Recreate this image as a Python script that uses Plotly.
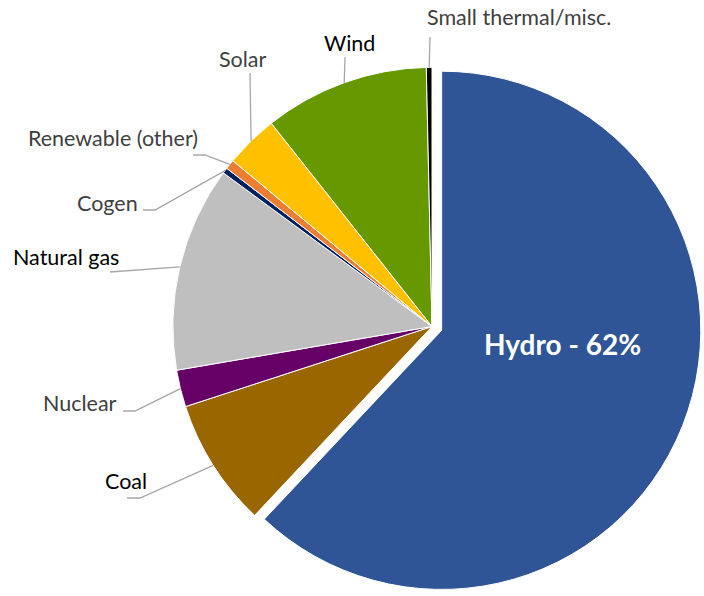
import plotly.graph_objects as go
import numpy as np

# electricity generation by source (share of total, %)
sources = ["Hydro", "Coal", "Nuclear", "Natural gas", "Cogen",
           "Renewable (other)", "Solar", "Wind", "Small thermal/misc."]
shares = [62.0, 8.0, 2.3, 12.8, 0.35, 0.6, 3.3, 10.3, 0.35]
colors = ["#2F5597", "#996600", "#660066", "#BFBFBF", "#002060",
          "#ED7D31", "#FFC000", "#669900", "#000000"]

W, H = 704, 596
FONT = "Lato, Calibri, sans-serif"
PULL = 0.04
dom_x = [0.2301, 0.9972]
dom_y = [0.0, 0.9044]

# label placement (px): text centre, then leader line points before the slice edge
label_pos = {
    "Coal": dict(text=(126, 481), line=[(127, 498), (140, 498)], color="#000000"),
    "Nuclear": dict(text=(80, 403), line=[(123, 411), (135, 411)], color="#404040"),
    "Natural gas": dict(text=(66, 257), line=[(110, 272)], color="#000000"),
    "Cogen": dict(text=(107, 203), line=[(143, 210), (155, 210)], color="#404040"),
    "Renewable (other)": dict(text=(113, 138), line=[(193, 155), (205, 155)], color="#404040"),
    "Solar": dict(text=(243, 59), line=[(250, 73)], color="#404040"),
    "Wind": dict(text=(349, 43), line=[(345, 57)], color="#000000"),
    "Small thermal/misc.": dict(text=(519, 17), line=[(430, 37)], color="#404040"),
}

fig = go.Figure(go.Pie(
    labels=sources, values=shares, sort=False, direction="clockwise", rotation=0,
    marker=dict(colors=colors, line=dict(color="white", width=1)),
    pull=[PULL] + [0] * (len(sources) - 1),
    textinfo="none", hoverinfo="label+percent",
    domain=dict(x=dom_x, y=dom_y), showlegend=False,
))

# pie geometry, same as plotly computes it
rx = W * (dom_x[1] - dom_x[0]) / 2
ry = H * (dom_y[1] - dom_y[0]) / 2
r = min(rx, ry) / (1 + PULL)
cx = W * (dom_x[0] + dom_x[1]) / 2
cy = H * (1 - dom_y[0]) - ry

vals = np.array(shares)
ends = np.cumsum(vals) / vals.sum() * 360
mids = np.radians(ends - vals / vals.sum() * 180)

def to_paper(p):
    return p[0] / W, 1 - p[1] / H

annotations = []
shapes = []
for name, ang in zip(sources, mids):
    if name not in label_pos:
        continue
    lp = label_pos[name]
    anchor = (cx + r * np.sin(ang), cy - r * np.cos(ang))
    pts = [to_paper(p) for p in lp["line"] + [anchor]]
    path = "M " + " L ".join(f"{x:.5f},{y:.5f}" for x, y in pts)
    shapes.append(dict(type="path", path=path, xref="paper", yref="paper",
                       line=dict(color="#A6A6A6", width=1.3)))
    tx, ty = to_paper(lp["text"])
    annotations.append(dict(text=name, x=tx, y=ty, xref="paper", yref="paper",
                            showarrow=False, xanchor="center", yanchor="middle",
                            font=dict(family=FONT, size=21.5, color=lp["color"])))

hx, hy = to_paper((562, 344))
annotations.append(dict(text=f"<b>{sources[0]} - {shares[0]:.0f}%</b>", x=hx, y=hy,
                        xref="paper", yref="paper", showarrow=False,
                        xanchor="center", yanchor="middle",
                        font=dict(family=FONT, size=28, color="white")))

fig.update_layout(width=W, height=H, margin=dict(l=0, r=0, t=0, b=0),
                  paper_bgcolor="white", plot_bgcolor="white",
                  annotations=annotations, shapes=shapes)

# drop the default 8px page margin so the chart sits at the window origin
fig.write_html("out.html", config={"displayModeBar": False},
               post_script="document.body.style.margin='0px';")
